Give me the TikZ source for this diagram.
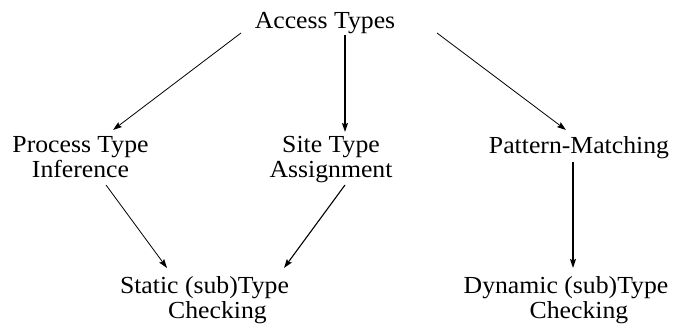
\documentclass[tikz,border=0pt]{standalone}
\usepackage{fontspec}
\setmainfont[FakeStretch=1.05]{Liberation Serif}
\usetikzlibrary{arrows.meta,calc}
\begin{document}
\begin{tikzpicture}[x=1pt,y=-1pt,
  lbl/.style={inner sep=0pt,anchor=base,align=center,font=\fontsize{24.5}{25}\selectfont},
  thin arrow/.style={-{Stealth[length=9pt,width=6pt,inset=1.5pt]},line width=0.8pt},
  mid arrow/.style={-{Stealth[length=9pt,width=6pt,inset=1.5pt]},line width=1.1pt},
  vert arrow/.style={-{Stealth[length=9pt,width=6pt,inset=1.5pt]},line width=1.4pt}]
\useasboundingbox (0,0) rectangle (674,331);
% multi-line nodes: base anchor is the baseline of the last line
\node[lbl] (access) at (325,28.5) {Access Types};
\node[lbl] (process) at (80.5,178) {Process Type\\Inference};
\node[lbl] (site) at (331,178) {Site Type\\Assignment};
\node[lbl] (pattern) at (579,154) {Pattern-Matching};
\node[lbl] (static) at (204.5,318) {Static (sub)Type\\\hspace*{26pt}Checking};
\node[lbl] (dynamic) at (566,318) {Dynamic (sub)Type\\\hspace*{26pt}Checking};
\draw[thin arrow] ($(access.base)+(-84,4.5)$) -- ($(process.base)+(32.5,-48)$);
\draw[vert arrow] ($(access.base)+(20,6.5)$) -- ($(site.base)+(14,-46)$);
\draw[thin arrow] ($(access.base)+(112,4.5)$) -- ($(pattern.base)+(-13,-24)$);
\draw[thin arrow] ($(process.base)+(25.5,7)$) -- ($(static.base)+(-37.5,-50)$);
\draw[mid arrow] ($(site.base)+(14,7)$) -- ($(static.base)+(79.5,-50)$);
\draw[vert arrow] ($(pattern.base)+(-6,8)$) -- ($(dynamic.base)+(7,-50)$);
\end{tikzpicture}
\end{document}
